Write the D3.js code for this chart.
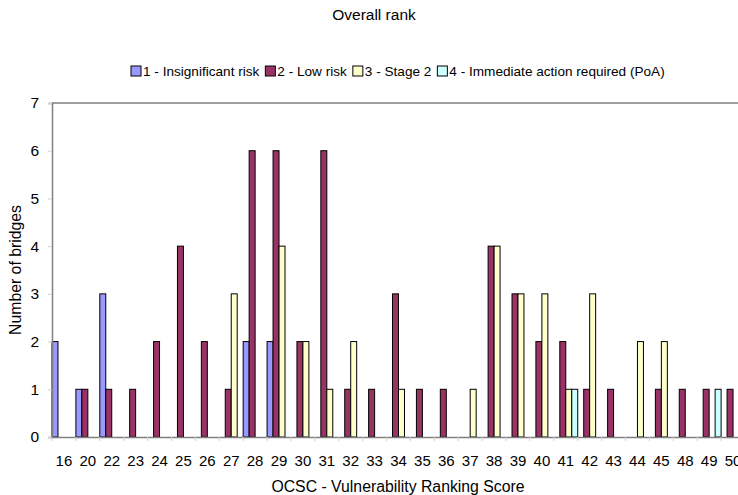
<!DOCTYPE html>
<html>
<head>
<meta charset="utf-8">
<script src="https://cdn.jsdelivr.net/npm/d3@7"></script>
<style>
  html, body { margin: 0; padding: 0; background: #fff; }
  svg { display: block; font-family: "Liberation Sans", Arial, sans-serif; }
</style>
</head>
<body>
<svg id="chart" width="738" height="495"></svg>
<script>
// Vulnerability ranking scores (x categories)
const scores = ["16","20","22","23","24","25","26","27","28","29","30","31","32","33","34","35","36","37","38","39","40","41","42","43","44","45","48","49","50"];

// Number of bridges per score, one array per rank
const rank1 = [2,1,3,0,0,0,0,0,2,2,0,0,0,0,0,0,0,0,0,0,0,0,0,0,0,0,0,0,0];
const rank2 = [0,1,1,1,2,4,2,1,6,6,2,6,1,1,3,1,1,0,4,3,2,2,1,1,0,1,1,1,1];
const rank3 = [0,0,0,0,0,0,0,3,0,4,2,1,2,0,1,0,0,1,4,3,3,1,3,0,2,2,0,0,0];
const rank4 = [0,0,0,0,0,0,0,0,0,0,0,0,0,0,0,0,0,0,0,0,0,1,0,0,0,0,0,1,0];

const seriesNames = ["1 - Insignificant risk", "2 - Low risk", "3 - Stage 2", "4 - Immediate action required (PoA)"];
const seriesColors = ["#9999FF", "#993366", "#FFFFCC", "#CCFFFF"];
const yTicks = [0,1,2,3,4,5,6,7];

const series = [rank1, rank2, rank3, rank4];

const svg = d3.select("#chart");
const plot = { left: 52, top: 103, right: 745, bottom: 437 };

const x = d3.scaleBand().domain(scores).range([plot.left, plot.right]).paddingInner(0).paddingOuter(0);
const xs = d3.scaleBand().domain(d3.range(series.length)).range([0, x.bandwidth()]).padding(0);
const y = d3.scaleLinear().domain([0, 7]).range([plot.bottom, plot.top]);

// Title
svg.append("text")
  .attr("x", 374).attr("y", 20)
  .attr("text-anchor", "middle")
  .attr("font-size", 15.5)
  .attr("fill", "#000")
  .text("Overall rank");

// Plot area frame (top and right edges)
svg.append("path")
  .attr("d", `M${plot.left},${plot.top}H${plot.right}V${plot.bottom}`)
  .attr("fill", "none")
  .attr("stroke", "#808080")
  .attr("stroke-width", 1.5);

// Bars
const groups = svg.append("g").selectAll("g")
  .data(scores)
  .join("g")
  .attr("transform", d => `translate(${x(d)},0)`);

groups.selectAll("rect")
  .data((d, i) => series.map((s, k) => ({ k, v: s[i] })).filter(e => e.v > 0))
  .join("rect")
  .attr("x", d => xs(d.k))
  .attr("y", d => y(d.v))
  .attr("width", xs.bandwidth())
  .attr("height", d => y(0) - y(d.v))
  .attr("fill", d => seriesColors[d.k])
  .attr("stroke", "#000")
  .attr("stroke-width", 1);

// X axis
const xAxis = svg.append("g")
  .attr("transform", `translate(0,${plot.bottom})`)
  .call(d3.axisBottom(x).tickSize(0).tickPadding(18));
xAxis.select(".domain").attr("stroke", "#808080").attr("stroke-width", 1.5);
xAxis.selectAll("text").attr("font-size", 15).attr("fill", "#000").attr("font-family", "Liberation Sans, Arial, sans-serif");

// category boundary tick marks
svg.append("g").selectAll("line")
  .data(scores)
  .join("line")
  .attr("x1", d => x(d)).attr("x2", d => x(d))
  .attr("y1", plot.bottom).attr("y2", plot.bottom + 4)
  .attr("stroke", "#d0d0d0");

// Y axis
const yAxis = svg.append("g")
  .attr("transform", `translate(${plot.left},0)`)
  .call(d3.axisLeft(y).tickValues(yTicks).tickFormat(d3.format("d")).tickSize(4).tickPadding(9));
yAxis.select(".domain").attr("stroke", "#808080").attr("stroke-width", 1.5);
yAxis.selectAll(".tick line").attr("stroke", "#d0d0d0");
yAxis.selectAll("text").attr("font-size", 15.5).attr("fill", "#000").attr("font-family", "Liberation Sans, Arial, sans-serif");

// Axis titles
svg.append("text")
  .attr("x", 398).attr("y", 492)
  .attr("text-anchor", "middle")
  .attr("font-size", 15.8)
  .text("OCSC - Vulnerability Ranking Score");

svg.append("text")
  .attr("transform", "translate(21,270) rotate(-90)")
  .attr("text-anchor", "middle")
  .attr("font-size", 15.8)
  .text("Number of bridges");

// Legend
const legend = svg.append("g").attr("transform", "translate(131,76)");
let lx = 0;
seriesNames.forEach((name, k) => {
  const g = legend.append("g").attr("transform", `translate(${lx},0)`);
  g.append("rect").attr("x", 0).attr("y", -10).attr("width", 10).attr("height", 10)
    .attr("fill", seriesColors[k]).attr("stroke", "#000").attr("stroke-width", 1);
  const t = g.append("text").attr("x", 12).attr("y", 0)
    .attr("font-size", 13.6).text(name);
  lx += 12 + t.node().getComputedTextLength() + 6;
});
</script>
</body>
</html>
